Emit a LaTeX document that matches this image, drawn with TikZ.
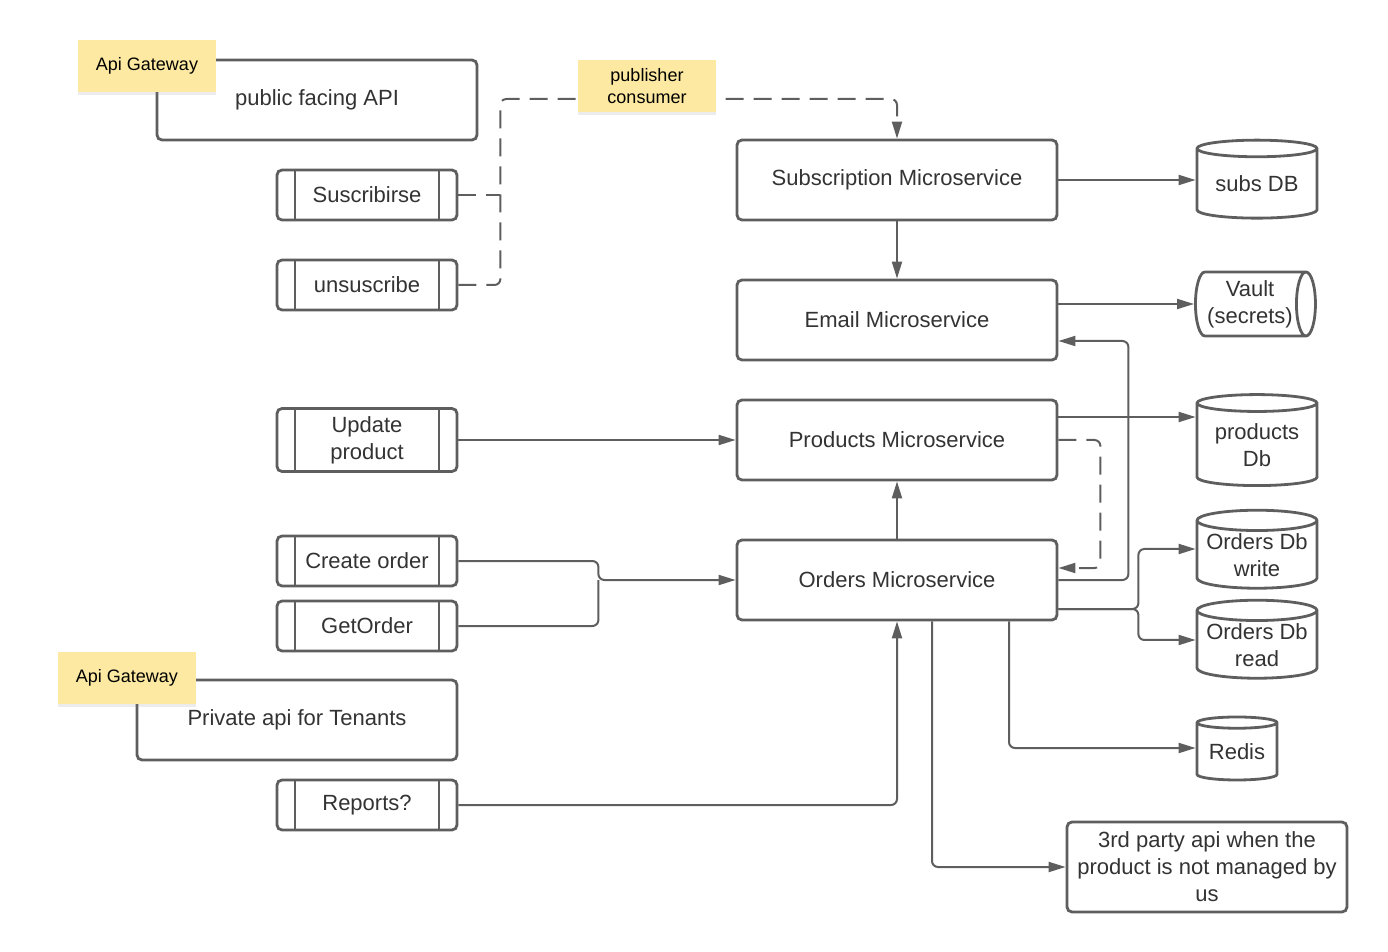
\documentclass[tikz,border=0pt]{standalone}
\usepackage{fontspec}
\setmainfont{Liberation Sans}
\usetikzlibrary{arrows.meta,shapes.geometric,shadows}
\definecolor{linegray}{HTML}{5E5E5E}
\definecolor{txtgray}{HTML}{333333}
\definecolor{notey}{HTML}{FDE9A2}

\begin{document}
\begin{tikzpicture}[x=0.5pt, y=-0.5pt,
        box/.style={draw=linegray, line width=1.4pt, rounded corners=2.5pt, fill=white, text=txtgray,
            font=\fontsize{11}{13.5}\selectfont, align=center, inner sep=0pt},
        svc/.style={box, minimum width=160pt, minimum height=40pt},
        endpoint/.style={box, minimum width=90pt, minimum height=25pt,
            path picture={\draw[linegray, line width=1.4pt]
                ([xshift=9pt]path picture bounding box.north west) -- ([xshift=9pt]path picture bounding box.south west)
                ([xshift=-9pt]path picture bounding box.north east) -- ([xshift=-9pt]path picture bounding box.south east);}},
        db/.style={cylinder, shape border rotate=90, aspect=0.2, draw=linegray, line width=1.4pt, fill=white,
            text=txtgray, font=\fontsize{11}{13.5}\selectfont, align=center, inner sep=0pt,
            minimum width=60pt, minimum height=39pt},
        note/.style={fill=notey, font=\fontsize{9}{11}\selectfont, align=center, minimum width=69pt, minimum height=26pt,
            drop shadow={shadow xshift=0pt, shadow yshift=-1.5pt, opacity=0.15}},
        conn/.style={draw=linegray, line width=1pt, rounded corners=3pt},
        dashconn/.style={conn, dash pattern=on 9pt off 5pt},
        tip/.style={-{Triangle[length=8.5pt,width=5pt]}}
    ]
    \useasboundingbox (0,0) rectangle (1388,952);

    % services
    \node[svc] (pubapi) at (317,100) {public facing API};
    \node[svc] (subms) at (897,180) {Subscription Microservice};
    \node[svc] (emailms) at (897,320) {Email Microservice};
    \node[svc] (prodms) at (897,440) {Products Microservice};
    \node[svc] (ordms) at (897,580) {Orders Microservice};
    \node[svc] (privapi) at (297,720) {Private api for Tenants};

    % endpoints
    \node[endpoint] (suscr) at (367,195) {Suscribirse};
    \node[endpoint] (unsub) at (367,285) {unsuscribe};
    \node[endpoint, minimum height=31.5pt] (updprod) at (367,440) {Update\\product};
    \node[endpoint] (createord) at (367,561) {Create order};
    \node[endpoint] (getord) at (367,626) {GetOrder};
    \node[endpoint] (reports) at (367,805) {Reports?};

    % storage
    \node[db] (subsdb) at (1257,184) {subs DB};
    \node[db, shape border rotate=0, aspect=0.4, minimum width=32pt, minimum height=60pt] (vault) at (1250,304) {Vault\\(secrets)};
    \node[db, minimum height=45.5pt] (proddb) at (1257,445) {products\\Db};
    \node[db] (owrite) at (1257,555) {Orders Db\\write};
    \node[db] (oread) at (1257,645) {Orders Db\\read};
    \node[db, minimum width=40pt, minimum height=31.5pt] (redis) at (1237,752) {Redis};
    \node[box, minimum width=140pt, minimum height=45pt] (third) at (1207,867) {3rd party api when the\\product is not managed by\\us};

    % connectors
    \draw[dashconn, tip] (unsub.east) -- ++(42,0) -- ++(0,-186) -| (subms.north);
    \draw[dashconn] (suscr.east) -- ++(42,0);
    \draw[conn, tip] (subms.east) -- (subms.east -| subsdb.west);
    \draw[conn, tip] (subms.south) -- (emailms.north);
    \draw[conn, tip] (emailms.east |- vault.west) -- (vault.west);
    \draw[conn, tip] ([yshift=11.5pt]prodms.east) -- ([yshift=11.5pt]prodms.east -| proddb.west);
    \draw[conn, tip] (updprod.east) -- (prodms.west);
    \draw[conn, tip] (ordms.north) -- (prodms.south);
    \draw[dashconn, tip] (prodms.east) -- ++(42,0) |- ([yshift=6pt]ordms.east);
    \draw[conn, tip] (ordms.east) -- ++(70,0) |- ([yshift=-10.5pt]emailms.east);
    \draw[conn, tip] ([yshift=-14.5pt]ordms.east) -- ++(80,0) |- ([yshift=3pt]owrite.west);
    \draw[conn, tip] ([yshift=-14.5pt]ordms.east) -- ++(80,0) |- ([yshift=2.5pt]oread.west);
    \draw[conn, tip] (createord.east) -- ++(140,0) |- (ordms.west);
    \draw[conn] (getord.east) -- ++(140,0) -- ++(0,-46);
    \draw[conn, tip] (reports.east) -| (ordms.south);
    \draw[conn, tip] ([xshift=56pt]ordms.south) |- ([yshift=2pt]redis.west);
    \draw[conn, tip] ([xshift=17.5pt]ordms.south) |- (third.west);

    % sticky notes
    \node[note] (gwtop) at (147,66) {Api Gateway};
    \node[note] (pubsub) at (647,86) {publisher\\consumer};
    \node[note] (gwbot) at (127,678) {Api Gateway};
\end{tikzpicture}
\end{document}
